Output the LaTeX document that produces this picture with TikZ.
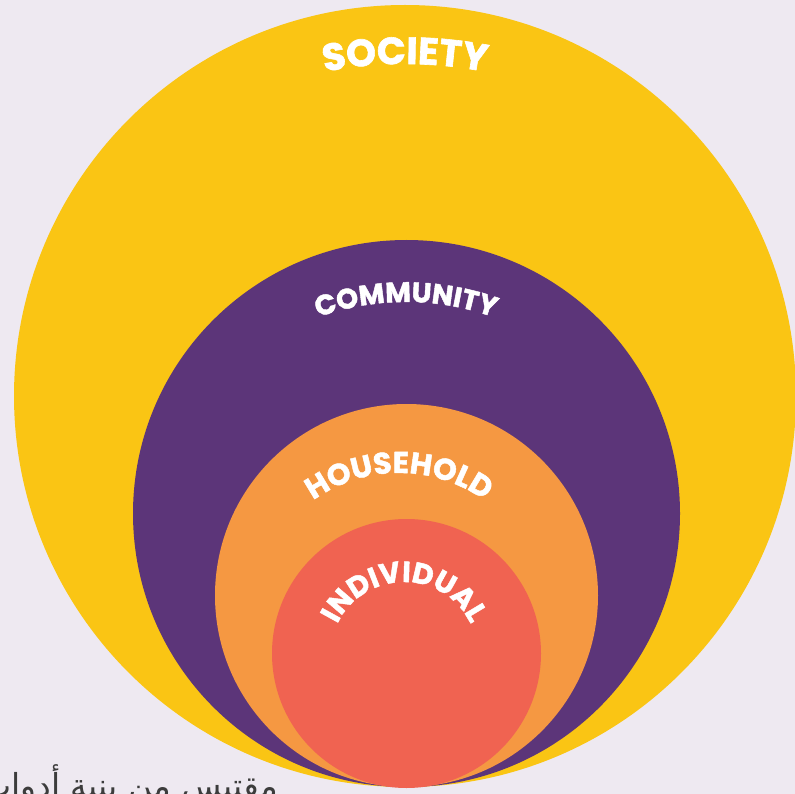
\documentclass[tikz,border=0pt]{standalone}
\usepackage{fontspec}
\usetikzlibrary{decorations.text}
\TeXXeTstate=1
\newfontfamily\labfont{Poppins}[BoldFeatures={FakeBold=1.6}]
\newfontfamily\arabicfont[Script=Arabic]{DejaVu Sans}
\definecolor{bgc}{HTML}{EEE9F1}
\definecolor{socc}{HTML}{FAC514}
\definecolor{comc}{HTML}{5C3579}
\definecolor{houc}{HTML}{F59842}
\definecolor{indc}{HTML}{F06351}
\definecolor{srcc}{HTML}{3C3C3C}
\begin{document}
\begin{tikzpicture}[x=1pt,y=1pt]
\useasboundingbox (0,0) rectangle (795,-794);
\fill[bgc] (0,0) rectangle (795,-794);
\fill[socc] (405,-396) circle (391);
\fill[comc] (406.5,-513.5) circle (273.5);
\fill[houc] (406.5,-595.5) circle (191.5);
\fill[indc] (406.5,-653.5) circle (134.5);
\path[decorate, decoration={text along path, text align=center, text color=white,
  text={|\labfont\bfseries\fontsize{38}{38}\selectfont|SOCIETY}}]
  (405,-484) ++(115:420) arc[start angle=115, end angle=65, radius=420];
\path[decorate, decoration={text along path, text align=center, text color=white,
  text={|\labfont\bfseries\fontsize{28}{28}\selectfont|COMMUNITY}}]
  (406,-562) ++(130:260) arc[start angle=130, end angle=50, radius=260];
\path[decorate, decoration={text along path, text align=center, text color=white,
  text={|\labfont\bfseries\fontsize{30}{30}\selectfont|HOUSEHOLD}}]
  (399,-621) ++(160:148) arc[start angle=160, end angle=20, radius=148];
\path[decorate, decoration={text along path, text align=center, text color=white,
  text={|\labfont\bfseries\fontsize{29}{29}\selectfont|INDIVIDUAL}}]
  (404,-656) ++(175:74) arc[start angle=175, end angle=5, radius=74];
\node[anchor=base east, inner sep=0pt, text=srcc, font=\arabicfont\fontsize{33}{33}\selectfont] (src) at (278,-797) {\beginR مقتبس من بنية أدوات\endR};
\end{tikzpicture}
\end{document}
